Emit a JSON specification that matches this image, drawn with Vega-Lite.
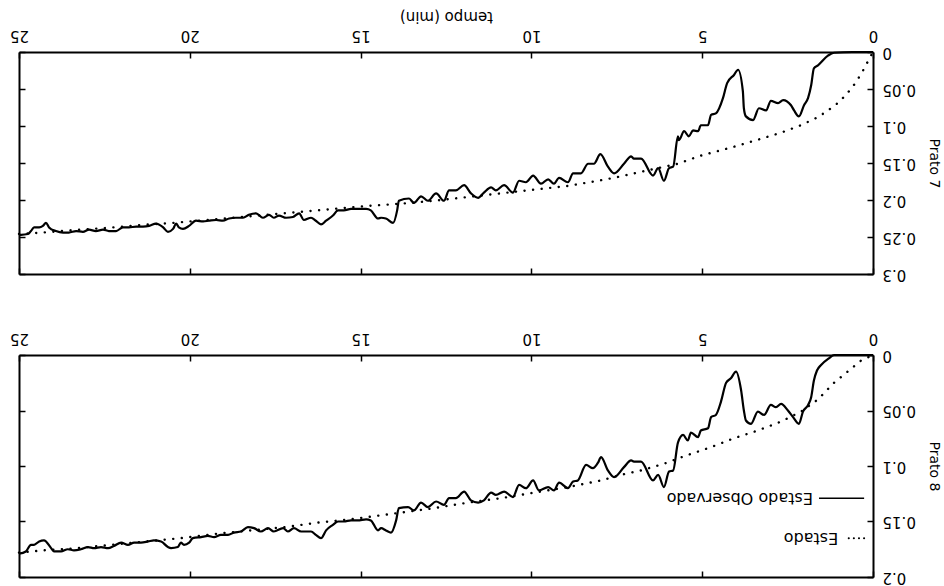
{
  "$schema": "https://vega.github.io/schema/vega-lite/v6.json",
  "background": "white",
  "padding": {"left": 9, "top": 7, "right": 4, "bottom": 2},
  "config": {
    "font": "DejaVu Sans",
    "view": {"stroke": null},
    "axis": {
      "grid": false,
      "domainColor": "black",
      "domainWidth": 2,
      "tickColor": "black",
      "tickWidth": 1.5,
      "labelColor": "black",
      "titleColor": "black",
      "labelFont": "DejaVu Sans",
      "titleFont": "DejaVu Sans",
      "labelFontSize": 15,
      "titleFontSize": 14,
      "titleFontWeight": "normal",
      "labelFlush": false,
      "labelOverlap": false
    }
  },
  "datasets": {
    "prato7": [
      {"t": 0, "v": 0, "serie": "Estado"},
      {"t": 0.06, "v": 0.005, "serie": "Estado"},
      {"t": 0.35, "v": 0.030, "serie": "Estado"},
      {"t": 0.55, "v": 0.044, "serie": "Estado"},
      {"t": 0.79, "v": 0.058, "serie": "Estado"},
      {"t": 1.03, "v": 0.069, "serie": "Estado"},
      {"t": 1.32, "v": 0.079, "serie": "Estado"},
      {"t": 1.61, "v": 0.088, "serie": "Estado"},
      {"t": 2.11, "v": 0.099, "serie": "Estado"},
      {"t": 2.69, "v": 0.109, "serie": "Estado"},
      {"t": 3.48, "v": 0.120, "serie": "Estado"},
      {"t": 4.07, "v": 0.128, "serie": "Estado"},
      {"t": 5.04, "v": 0.140, "serie": "Estado"},
      {"t": 5.71, "v": 0.151, "serie": "Estado"},
      {"t": 6.6, "v": 0.160, "serie": "Estado"},
      {"t": 7.58, "v": 0.170, "serie": "Estado"},
      {"t": 8.05, "v": 0.174, "serie": "Estado"},
      {"t": 8.93, "v": 0.181, "serie": "Estado"},
      {"t": 9.92, "v": 0.186, "serie": "Estado"},
      {"t": 10.89, "v": 0.191, "serie": "Estado"},
      {"t": 11.86, "v": 0.196, "serie": "Estado"},
      {"t": 12.85, "v": 0.201, "serie": "Estado"},
      {"t": 13.82, "v": 0.205, "serie": "Estado"},
      {"t": 14.78, "v": 0.208, "serie": "Estado"},
      {"t": 15.78, "v": 0.212, "serie": "Estado"},
      {"t": 16.74, "v": 0.216, "serie": "Estado"},
      {"t": 17.5, "v": 0.219, "serie": "Estado"},
      {"t": 18.5, "v": 0.223, "serie": "Estado"},
      {"t": 19.5, "v": 0.227, "serie": "Estado"},
      {"t": 20.5, "v": 0.231, "serie": "Estado"},
      {"t": 21.5, "v": 0.234, "serie": "Estado"},
      {"t": 22.5, "v": 0.238, "serie": "Estado"},
      {"t": 23.5, "v": 0.241, "serie": "Estado"},
      {"t": 24.3, "v": 0.244, "serie": "Estado"},
      {"t": 25, "v": 0.246, "serie": "Estado"},

      {"t": 0, "v": 0, "serie": "Estado Observado"},
      {"t": 0.6, "v": 0, "serie": "Estado Observado"},
      {"t": 1.14, "v": 0.001, "serie": "Estado Observado"},
      {"t": 1.32, "v": 0.005, "serie": "Estado Observado"},
      {"t": 1.61, "v": 0.018, "serie": "Estado Observado"},
      {"t": 1.73, "v": 0.022, "serie": "Estado Observado"},
      {"t": 1.81, "v": 0.045, "serie": "Estado Observado"},
      {"t": 1.90, "v": 0.062, "serie": "Estado Observado"},
      {"t": 2.02, "v": 0.072, "serie": "Estado Observado"},
      {"t": 2.17, "v": 0.087, "serie": "Estado Observado"},
      {"t": 2.31, "v": 0.079, "serie": "Estado Observado"},
      {"t": 2.40, "v": 0.072, "serie": "Estado Observado"},
      {"t": 2.63, "v": 0.065, "serie": "Estado Observado"},
      {"t": 2.78, "v": 0.069, "serie": "Estado Observado"},
      {"t": 2.99, "v": 0.066, "serie": "Estado Observado"},
      {"t": 3.13, "v": 0.079, "serie": "Estado Observado"},
      {"t": 3.34, "v": 0.076, "serie": "Estado Observado"},
      {"t": 3.51, "v": 0.092, "serie": "Estado Observado"},
      {"t": 3.72, "v": 0.087, "serie": "Estado Observado"},
      {"t": 3.78, "v": 0.076, "serie": "Estado Observado"},
      {"t": 3.81, "v": 0.053, "serie": "Estado Observado"},
      {"t": 3.95, "v": 0.024, "serie": "Estado Observado"},
      {"t": 4.07, "v": 0.031, "serie": "Estado Observado"},
      {"t": 4.27, "v": 0.042, "serie": "Estado Observado"},
      {"t": 4.39, "v": 0.062, "serie": "Estado Observado"},
      {"t": 4.60, "v": 0.083, "serie": "Estado Observado"},
      {"t": 4.74, "v": 0.085, "serie": "Estado Observado"},
      {"t": 4.83, "v": 0.099, "serie": "Estado Observado"},
      {"t": 5.04, "v": 0.099, "serie": "Estado Observado"},
      {"t": 5.12, "v": 0.107, "serie": "Estado Observado"},
      {"t": 5.27, "v": 0.106, "serie": "Estado Observado"},
      {"t": 5.39, "v": 0.114, "serie": "Estado Observado"},
      {"t": 5.53, "v": 0.107, "serie": "Estado Observado"},
      {"t": 5.68, "v": 0.119, "serie": "Estado Observado"},
      {"t": 5.71, "v": 0.114, "serie": "Estado Observado"},
      {"t": 5.85, "v": 0.155, "serie": "Estado Observado"},
      {"t": 5.97, "v": 0.157, "serie": "Estado Observado"},
      {"t": 6.12, "v": 0.174, "serie": "Estado Observado"},
      {"t": 6.29, "v": 0.157, "serie": "Estado Observado"},
      {"t": 6.44, "v": 0.167, "serie": "Estado Observado"},
      {"t": 6.79, "v": 0.144, "serie": "Estado Observado"},
      {"t": 7.00, "v": 0.144, "serie": "Estado Observado"},
      {"t": 7.08, "v": 0.141, "serie": "Estado Observado"},
      {"t": 7.29, "v": 0.151, "serie": "Estado Observado"},
      {"t": 7.58, "v": 0.164, "serie": "Estado Observado"},
      {"t": 7.76, "v": 0.155, "serie": "Estado Observado"},
      {"t": 7.98, "v": 0.138, "serie": "Estado Observado"},
      {"t": 8.17, "v": 0.151, "serie": "Estado Observado"},
      {"t": 8.34, "v": 0.151, "serie": "Estado Observado"},
      {"t": 8.55, "v": 0.164, "serie": "Estado Observado"},
      {"t": 8.78, "v": 0.164, "serie": "Estado Observado"},
      {"t": 8.93, "v": 0.176, "serie": "Estado Observado"},
      {"t": 9.19, "v": 0.170, "serie": "Estado Observado"},
      {"t": 9.34, "v": 0.178, "serie": "Estado Observado"},
      {"t": 9.51, "v": 0.172, "serie": "Estado Observado"},
      {"t": 9.72, "v": 0.178, "serie": "Estado Observado"},
      {"t": 9.95, "v": 0.167, "serie": "Estado Observado"},
      {"t": 10.16, "v": 0.176, "serie": "Estado Observado"},
      {"t": 10.36, "v": 0.174, "serie": "Estado Observado"},
      {"t": 10.54, "v": 0.190, "serie": "Estado Observado"},
      {"t": 10.80, "v": 0.180, "serie": "Estado Observado"},
      {"t": 11.04, "v": 0.187, "serie": "Estado Observado"},
      {"t": 11.18, "v": 0.183, "serie": "Estado Observado"},
      {"t": 11.39, "v": 0.190, "serie": "Estado Observado"},
      {"t": 11.56, "v": 0.197, "serie": "Estado Observado"},
      {"t": 11.77, "v": 0.191, "serie": "Estado Observado"},
      {"t": 11.97, "v": 0.180, "serie": "Estado Observado"},
      {"t": 12.21, "v": 0.187, "serie": "Estado Observado"},
      {"t": 12.41, "v": 0.187, "serie": "Estado Observado"},
      {"t": 12.56, "v": 0.201, "serie": "Estado Observado"},
      {"t": 12.79, "v": 0.191, "serie": "Estado Observado"},
      {"t": 13.03, "v": 0.201, "serie": "Estado Observado"},
      {"t": 13.23, "v": 0.195, "serie": "Estado Observado"},
      {"t": 13.44, "v": 0.204, "serie": "Estado Observado"},
      {"t": 13.58, "v": 0.198, "serie": "Estado Observado"},
      {"t": 13.88, "v": 0.201, "serie": "Estado Observado"},
      {"t": 13.93, "v": 0.214, "serie": "Estado Observado"},
      {"t": 14.05, "v": 0.231, "serie": "Estado Observado"},
      {"t": 14.26, "v": 0.225, "serie": "Estado Observado"},
      {"t": 14.40, "v": 0.224, "serie": "Estado Observado"},
      {"t": 14.49, "v": 0.225, "serie": "Estado Observado"},
      {"t": 14.70, "v": 0.214, "serie": "Estado Observado"},
      {"t": 14.84, "v": 0.212, "serie": "Estado Observado"},
      {"t": 15.05, "v": 0.212, "serie": "Estado Observado"},
      {"t": 15.28, "v": 0.212, "serie": "Estado Observado"},
      {"t": 15.49, "v": 0.214, "serie": "Estado Observado"},
      {"t": 15.66, "v": 0.214, "serie": "Estado Observado"},
      {"t": 15.81, "v": 0.221, "serie": "Estado Observado"},
      {"t": 16.01, "v": 0.228, "serie": "Estado Observado"},
      {"t": 16.16, "v": 0.233, "serie": "Estado Observado"},
      {"t": 16.31, "v": 0.228, "serie": "Estado Observado"},
      {"t": 16.45, "v": 0.224, "serie": "Estado Observado"},
      {"t": 16.66, "v": 0.227, "serie": "Estado Observado"},
      {"t": 16.80, "v": 0.218, "serie": "Estado Observado"},
      {"t": 16.98, "v": 0.223, "serie": "Estado Observado"},
      {"t": 17.18, "v": 0.224, "serie": "Estado Observado"},
      {"t": 17.39, "v": 0.221, "serie": "Estado Observado"},
      {"t": 17.54, "v": 0.224, "serie": "Estado Observado"},
      {"t": 17.68, "v": 0.220, "serie": "Estado Observado"},
      {"t": 17.86, "v": 0.224, "serie": "Estado Observado"},
      {"t": 18.06, "v": 0.218, "serie": "Estado Observado"},
      {"t": 18.27, "v": 0.220, "serie": "Estado Observado"},
      {"t": 18.44, "v": 0.224, "serie": "Estado Observado"},
      {"t": 18.65, "v": 0.224, "serie": "Estado Observado"},
      {"t": 18.85, "v": 0.225, "serie": "Estado Observado"},
      {"t": 19.03, "v": 0.228, "serie": "Estado Observado"},
      {"t": 19.23, "v": 0.227, "serie": "Estado Observado"},
      {"t": 19.44, "v": 0.228, "serie": "Estado Observado"},
      {"t": 19.61, "v": 0.229, "serie": "Estado Observado"},
      {"t": 19.82, "v": 0.228, "serie": "Estado Observado"},
      {"t": 20.02, "v": 0.235, "serie": "Estado Observado"},
      {"t": 20.20, "v": 0.239, "serie": "Estado Observado"},
      {"t": 20.32, "v": 0.237, "serie": "Estado Observado"},
      {"t": 20.40, "v": 0.232, "serie": "Estado Observado"},
      {"t": 20.49, "v": 0.239, "serie": "Estado Observado"},
      {"t": 20.64, "v": 0.243, "serie": "Estado Observado"},
      {"t": 20.78, "v": 0.237, "serie": "Estado Observado"},
      {"t": 20.99, "v": 0.232, "serie": "Estado Observado"},
      {"t": 21.19, "v": 0.235, "serie": "Estado Observado"},
      {"t": 21.37, "v": 0.236, "serie": "Estado Observado"},
      {"t": 21.57, "v": 0.236, "serie": "Estado Observado"},
      {"t": 21.78, "v": 0.237, "serie": "Estado Observado"},
      {"t": 21.96, "v": 0.237, "serie": "Estado Observado"},
      {"t": 22.16, "v": 0.242, "serie": "Estado Observado"},
      {"t": 22.37, "v": 0.242, "serie": "Estado Observado"},
      {"t": 22.54, "v": 0.240, "serie": "Estado Observado"},
      {"t": 22.75, "v": 0.242, "serie": "Estado Observado"},
      {"t": 22.95, "v": 0.240, "serie": "Estado Observado"},
      {"t": 23.13, "v": 0.243, "serie": "Estado Observado"},
      {"t": 23.33, "v": 0.242, "serie": "Estado Observado"},
      {"t": 23.54, "v": 0.244, "serie": "Estado Observado"},
      {"t": 23.71, "v": 0.244, "serie": "Estado Observado"},
      {"t": 23.92, "v": 0.242, "serie": "Estado Observado"},
      {"t": 24.12, "v": 0.237, "serie": "Estado Observado"},
      {"t": 24.21, "v": 0.231, "serie": "Estado Observado"},
      {"t": 24.30, "v": 0.235, "serie": "Estado Observado"},
      {"t": 24.41, "v": 0.237, "serie": "Estado Observado"},
      {"t": 24.56, "v": 0.237, "serie": "Estado Observado"},
      {"t": 24.65, "v": 0.242, "serie": "Estado Observado"},
      {"t": 24.74, "v": 0.246, "serie": "Estado Observado"},
      {"t": 24.94, "v": 0.247, "serie": "Estado Observado"},
      {"t": 25, "v": 0.247, "serie": "Estado Observado"}
    ],
    "prato8": [
      {"t": 0, "v": 0, "serie": "Estado"},
      {"t": 0.35, "v": 0.005, "serie": "Estado"},
      {"t": 1.14, "v": 0.025, "serie": "Estado"},
      {"t": 1.61, "v": 0.040, "serie": "Estado"},
      {"t": 2.11, "v": 0.051, "serie": "Estado"},
      {"t": 2.69, "v": 0.060, "serie": "Estado"},
      {"t": 3.37, "v": 0.068, "serie": "Estado"},
      {"t": 4.07, "v": 0.075, "serie": "Estado"},
      {"t": 4.74, "v": 0.083, "serie": "Estado"},
      {"t": 5.42, "v": 0.090, "serie": "Estado"},
      {"t": 6.12, "v": 0.098, "serie": "Estado"},
      {"t": 6.79, "v": 0.104, "serie": "Estado"},
      {"t": 7.38, "v": 0.108, "serie": "Estado"},
      {"t": 7.96, "v": 0.113, "serie": "Estado"},
      {"t": 8.93, "v": 0.119, "serie": "Estado"},
      {"t": 9.92, "v": 0.124, "serie": "Estado"},
      {"t": 10.89, "v": 0.129, "serie": "Estado"},
      {"t": 11.86, "v": 0.133, "serie": "Estado"},
      {"t": 12.85, "v": 0.138, "serie": "Estado"},
      {"t": 13.82, "v": 0.142, "serie": "Estado"},
      {"t": 14.3, "v": 0.144, "serie": "Estado"},
      {"t": 15.28, "v": 0.148, "serie": "Estado"},
      {"t": 16.25, "v": 0.151, "serie": "Estado"},
      {"t": 17.2, "v": 0.155, "serie": "Estado"},
      {"t": 18.2, "v": 0.158, "serie": "Estado"},
      {"t": 19.2, "v": 0.161, "serie": "Estado"},
      {"t": 20.26, "v": 0.165, "serie": "Estado"},
      {"t": 21.3, "v": 0.168, "serie": "Estado"},
      {"t": 22.3, "v": 0.171, "serie": "Estado"},
      {"t": 23.3, "v": 0.174, "serie": "Estado"},
      {"t": 24.27, "v": 0.176, "serie": "Estado"},
      {"t": 25, "v": 0.178, "serie": "Estado"},

      {"t": 0, "v": 0, "serie": "Estado Observado"},
      {"t": 0.6, "v": 0, "serie": "Estado Observado"},
      {"t": 1.14, "v": 0, "serie": "Estado Observado"},
      {"t": 1.29, "v": 0.003, "serie": "Estado Observado"},
      {"t": 1.52, "v": 0.009, "serie": "Estado Observado"},
      {"t": 1.64, "v": 0.014, "serie": "Estado Observado"},
      {"t": 1.73, "v": 0.023, "serie": "Estado Observado"},
      {"t": 1.81, "v": 0.038, "serie": "Estado Observado"},
      {"t": 1.90, "v": 0.045, "serie": "Estado Observado"},
      {"t": 2.05, "v": 0.051, "serie": "Estado Observado"},
      {"t": 2.17, "v": 0.062, "serie": "Estado Observado"},
      {"t": 2.34, "v": 0.056, "serie": "Estado Observado"},
      {"t": 2.49, "v": 0.050, "serie": "Estado Observado"},
      {"t": 2.69, "v": 0.044, "serie": "Estado Observado"},
      {"t": 2.84, "v": 0.047, "serie": "Estado Observado"},
      {"t": 2.99, "v": 0.045, "serie": "Estado Observado"},
      {"t": 3.19, "v": 0.054, "serie": "Estado Observado"},
      {"t": 3.37, "v": 0.051, "serie": "Estado Observado"},
      {"t": 3.57, "v": 0.062, "serie": "Estado Observado"},
      {"t": 3.72, "v": 0.059, "serie": "Estado Observado"},
      {"t": 3.78, "v": 0.050, "serie": "Estado Observado"},
      {"t": 3.86, "v": 0.032, "serie": "Estado Observado"},
      {"t": 4.01, "v": 0.015, "serie": "Estado Observado"},
      {"t": 4.16, "v": 0.021, "serie": "Estado Observado"},
      {"t": 4.30, "v": 0.025, "serie": "Estado Observado"},
      {"t": 4.45, "v": 0.042, "serie": "Estado Observado"},
      {"t": 4.60, "v": 0.054, "serie": "Estado Observado"},
      {"t": 4.74, "v": 0.056, "serie": "Estado Observado"},
      {"t": 4.83, "v": 0.066, "serie": "Estado Observado"},
      {"t": 5.04, "v": 0.068, "serie": "Estado Observado"},
      {"t": 5.12, "v": 0.074, "serie": "Estado Observado"},
      {"t": 5.33, "v": 0.070, "serie": "Estado Observado"},
      {"t": 5.42, "v": 0.077, "serie": "Estado Observado"},
      {"t": 5.56, "v": 0.072, "serie": "Estado Observado"},
      {"t": 5.71, "v": 0.079, "serie": "Estado Observado"},
      {"t": 5.85, "v": 0.104, "serie": "Estado Observado"},
      {"t": 5.97, "v": 0.105, "serie": "Estado Observado"},
      {"t": 6.12, "v": 0.119, "serie": "Estado Observado"},
      {"t": 6.29, "v": 0.108, "serie": "Estado Observado"},
      {"t": 6.44, "v": 0.113, "serie": "Estado Observado"},
      {"t": 6.79, "v": 0.096, "serie": "Estado Observado"},
      {"t": 7.00, "v": 0.096, "serie": "Estado Observado"},
      {"t": 7.08, "v": 0.095, "serie": "Estado Observado"},
      {"t": 7.29, "v": 0.101, "serie": "Estado Observado"},
      {"t": 7.58, "v": 0.110, "serie": "Estado Observado"},
      {"t": 7.76, "v": 0.104, "serie": "Estado Observado"},
      {"t": 7.96, "v": 0.092, "serie": "Estado Observado"},
      {"t": 8.05, "v": 0.097, "serie": "Estado Observado"},
      {"t": 8.20, "v": 0.102, "serie": "Estado Observado"},
      {"t": 8.40, "v": 0.099, "serie": "Estado Observado"},
      {"t": 8.64, "v": 0.113, "serie": "Estado Observado"},
      {"t": 8.78, "v": 0.114, "serie": "Estado Observado"},
      {"t": 8.93, "v": 0.120, "serie": "Estado Observado"},
      {"t": 9.19, "v": 0.115, "serie": "Estado Observado"},
      {"t": 9.34, "v": 0.122, "serie": "Estado Observado"},
      {"t": 9.51, "v": 0.119, "serie": "Estado Observado"},
      {"t": 9.78, "v": 0.122, "serie": "Estado Observado"},
      {"t": 9.95, "v": 0.113, "serie": "Estado Observado"},
      {"t": 10.16, "v": 0.120, "serie": "Estado Observado"},
      {"t": 10.36, "v": 0.117, "serie": "Estado Observado"},
      {"t": 10.54, "v": 0.128, "serie": "Estado Observado"},
      {"t": 10.80, "v": 0.123, "serie": "Estado Observado"},
      {"t": 11.04, "v": 0.126, "serie": "Estado Observado"},
      {"t": 11.18, "v": 0.124, "serie": "Estado Observado"},
      {"t": 11.39, "v": 0.131, "serie": "Estado Observado"},
      {"t": 11.56, "v": 0.133, "serie": "Estado Observado"},
      {"t": 11.77, "v": 0.131, "serie": "Estado Observado"},
      {"t": 11.97, "v": 0.123, "serie": "Estado Observado"},
      {"t": 12.21, "v": 0.129, "serie": "Estado Observado"},
      {"t": 12.41, "v": 0.129, "serie": "Estado Observado"},
      {"t": 12.56, "v": 0.135, "serie": "Estado Observado"},
      {"t": 12.79, "v": 0.132, "serie": "Estado Observado"},
      {"t": 13.03, "v": 0.137, "serie": "Estado Observado"},
      {"t": 13.23, "v": 0.133, "serie": "Estado Observado"},
      {"t": 13.44, "v": 0.140, "serie": "Estado Observado"},
      {"t": 13.61, "v": 0.137, "serie": "Estado Observado"},
      {"t": 13.88, "v": 0.138, "serie": "Estado Observado"},
      {"t": 13.96, "v": 0.149, "serie": "Estado Observado"},
      {"t": 14.11, "v": 0.160, "serie": "Estado Observado"},
      {"t": 14.26, "v": 0.158, "serie": "Estado Observado"},
      {"t": 14.40, "v": 0.156, "serie": "Estado Observado"},
      {"t": 14.49, "v": 0.158, "serie": "Estado Observado"},
      {"t": 14.70, "v": 0.149, "serie": "Estado Observado"},
      {"t": 14.84, "v": 0.148, "serie": "Estado Observado"},
      {"t": 15.08, "v": 0.149, "serie": "Estado Observado"},
      {"t": 15.28, "v": 0.149, "serie": "Estado Observado"},
      {"t": 15.49, "v": 0.150, "serie": "Estado Observado"},
      {"t": 15.66, "v": 0.150, "serie": "Estado Observado"},
      {"t": 15.81, "v": 0.153, "serie": "Estado Observado"},
      {"t": 16.01, "v": 0.158, "serie": "Estado Observado"},
      {"t": 16.16, "v": 0.165, "serie": "Estado Observado"},
      {"t": 16.31, "v": 0.162, "serie": "Estado Observado"},
      {"t": 16.45, "v": 0.159, "serie": "Estado Observado"},
      {"t": 16.74, "v": 0.159, "serie": "Estado Observado"},
      {"t": 16.95, "v": 0.156, "serie": "Estado Observado"},
      {"t": 17.13, "v": 0.159, "serie": "Estado Observado"},
      {"t": 17.27, "v": 0.156, "serie": "Estado Observado"},
      {"t": 17.54, "v": 0.159, "serie": "Estado Observado"},
      {"t": 17.71, "v": 0.156, "serie": "Estado Observado"},
      {"t": 17.92, "v": 0.159, "serie": "Estado Observado"},
      {"t": 18.12, "v": 0.156, "serie": "Estado Observado"},
      {"t": 18.30, "v": 0.155, "serie": "Estado Observado"},
      {"t": 18.50, "v": 0.159, "serie": "Estado Observado"},
      {"t": 18.71, "v": 0.160, "serie": "Estado Observado"},
      {"t": 18.88, "v": 0.162, "serie": "Estado Observado"},
      {"t": 19.09, "v": 0.162, "serie": "Estado Observado"},
      {"t": 19.29, "v": 0.164, "serie": "Estado Observado"},
      {"t": 19.47, "v": 0.163, "serie": "Estado Observado"},
      {"t": 19.67, "v": 0.164, "serie": "Estado Observado"},
      {"t": 19.91, "v": 0.165, "serie": "Estado Observado"},
      {"t": 20.02, "v": 0.169, "serie": "Estado Observado"},
      {"t": 20.17, "v": 0.171, "serie": "Estado Observado"},
      {"t": 20.26, "v": 0.169, "serie": "Estado Observado"},
      {"t": 20.35, "v": 0.173, "serie": "Estado Observado"},
      {"t": 20.55, "v": 0.174, "serie": "Estado Observado"},
      {"t": 20.64, "v": 0.173, "serie": "Estado Observado"},
      {"t": 20.84, "v": 0.168, "serie": "Estado Observado"},
      {"t": 21.05, "v": 0.167, "serie": "Estado Observado"},
      {"t": 21.22, "v": 0.168, "serie": "Estado Observado"},
      {"t": 21.43, "v": 0.169, "serie": "Estado Observado"},
      {"t": 21.63, "v": 0.169, "serie": "Estado Observado"},
      {"t": 21.81, "v": 0.171, "serie": "Estado Observado"},
      {"t": 22.01, "v": 0.169, "serie": "Estado Observado"},
      {"t": 22.22, "v": 0.172, "serie": "Estado Observado"},
      {"t": 22.39, "v": 0.174, "serie": "Estado Observado"},
      {"t": 22.60, "v": 0.173, "serie": "Estado Observado"},
      {"t": 22.80, "v": 0.174, "serie": "Estado Observado"},
      {"t": 22.98, "v": 0.173, "serie": "Estado Observado"},
      {"t": 23.19, "v": 0.175, "serie": "Estado Observado"},
      {"t": 23.39, "v": 0.176, "serie": "Estado Observado"},
      {"t": 23.57, "v": 0.175, "serie": "Estado Observado"},
      {"t": 23.77, "v": 0.177, "serie": "Estado Observado"},
      {"t": 23.98, "v": 0.177, "serie": "Estado Observado"},
      {"t": 24.06, "v": 0.174, "serie": "Estado Observado"},
      {"t": 24.27, "v": 0.167, "serie": "Estado Observado"},
      {"t": 24.41, "v": 0.168, "serie": "Estado Observado"},
      {"t": 24.56, "v": 0.171, "serie": "Estado Observado"},
      {"t": 24.65, "v": 0.171, "serie": "Estado Observado"},
      {"t": 24.80, "v": 0.177, "serie": "Estado Observado"},
      {"t": 25, "v": 0.179, "serie": "Estado Observado"}
    ]
  },
  "vconcat": [
    {
      "width": 854,
      "height": 222,
      "data": {"name": "prato7"},
      "resolve": {"axis": {"x": "independent", "y": "independent"}},
      "layer": [
        {
          "transform": [{"filter": "datum.serie === 'Estado'"}],
          "mark": {"type": "line", "color": "black", "strokeWidth": 2.4, "strokeDash": [0.1, 8.5], "strokeCap": "round"},
          "encoding": {
            "x": {
              "field": "t", "type": "quantitative",
              "scale": {"domain": [0, 25], "reverse": true, "nice": false, "zero": false},
              "axis": {"orient": "top", "values": [0, 5, 10, 15, 20, 25], "format": "d", "labelAngle": 180, "labelAlign": "center", "labelBaseline": "top", "tickSize": -6, "labelPadding": 16, "title": "tempo (min)", "titleAngle": 180, "titleBaseline": "top", "titlePadding": 4, "titleFontSize": 15}
            },
            "y": {
              "field": "v", "type": "quantitative",
              "scale": {"domain": [0, 0.3], "reverse": true, "nice": false, "zero": false},
              "axis": {"orient": "right", "values": [0, 0.05, 0.1, 0.15, 0.2, 0.25, 0.3], "format": "~g", "labelAngle": 180, "labelAlign": "right", "labelBaseline": "middle", "tickSize": -6, "labelPadding": 15, "title": "Prato 7", "titleAngle": 90, "titlePadding": 11}
            }
          }
        },
        {
          "transform": [{"filter": "datum.serie === 'Estado Observado'"}],
          "mark": {"type": "line", "color": "black", "strokeWidth": 2.2, "interpolate": "monotone"},
          "encoding": {
            "x": {
              "field": "t", "type": "quantitative",
              "axis": {"orient": "bottom", "values": [0, 5, 10, 15, 20, 25], "labels": false, "tickSize": -6, "title": null}
            },
            "y": {
              "field": "v", "type": "quantitative",
              "axis": {"orient": "left", "values": [0, 0.05, 0.1, 0.15, 0.2, 0.25, 0.3], "labels": false, "tickSize": -6, "title": null}
            }
          }
        }
      ]
    },
    {
      "width": 854,
      "height": 222,
      "data": {"name": "prato8"},
      "resolve": {"axis": {"x": "independent", "y": "independent"}},
      "layer": [
        {
          "transform": [{"filter": "datum.serie === 'Estado'"}],
          "mark": {"type": "line", "color": "black", "strokeWidth": 2.4, "strokeDash": [0.1, 8.5], "strokeCap": "round"},
          "encoding": {
            "x": {
              "field": "t", "type": "quantitative",
              "scale": {"domain": [0, 25], "reverse": true, "nice": false, "zero": false},
              "axis": {"orient": "top", "values": [0, 5, 10, 15, 20, 25], "format": "d", "labelAngle": 180, "labelAlign": "center", "labelBaseline": "top", "tickSize": -6, "labelPadding": 16, "title": null}
            },
            "y": {
              "field": "v", "type": "quantitative",
              "scale": {"domain": [0, 0.2], "reverse": true, "nice": false, "zero": false},
              "axis": {"orient": "right", "values": [0, 0.05, 0.1, 0.15, 0.2], "format": "~g", "labelAngle": 180, "labelAlign": "right", "labelBaseline": "middle", "tickSize": -6, "labelPadding": 15, "title": "Prato 8", "titleAngle": 90, "titlePadding": 11}
            }
          }
        },
        {
          "transform": [{"filter": "datum.serie === 'Estado Observado'"}],
          "mark": {"type": "line", "color": "black", "strokeWidth": 2.2, "interpolate": "monotone"},
          "encoding": {
            "x": {
              "field": "t", "type": "quantitative",
              "axis": {"orient": "bottom", "values": [0, 5, 10, 15, 20, 25], "labels": false, "tickSize": -6, "title": null}
            },
            "y": {
              "field": "v", "type": "quantitative",
              "axis": {"orient": "left", "values": [0, 0.05, 0.1, 0.15, 0.2], "labels": false, "tickSize": -6, "title": null}
            }
          }
        },
        {
          "data": {"values": [{}]},
          "mark": {"type": "rule", "color": "black", "strokeWidth": 1.5},
          "encoding": {
            "x": {"datum": 0.26, "type": "quantitative", "axis": null},
            "x2": {"datum": 1.58},
            "y": {"datum": 0.129, "type": "quantitative", "axis": null}
          }
        },
        {
          "data": {"values": [{}]},
          "mark": {"type": "rule", "color": "black", "strokeWidth": 2, "strokeDash": [0.1, 5], "strokeCap": "round"},
          "encoding": {
            "x": {"datum": 0.26, "type": "quantitative", "axis": null},
            "x2": {"datum": 0.79},
            "y": {"datum": 0.165, "type": "quantitative", "axis": null}
          }
        },
        {
          "data": {"values": [{}]},
          "mark": {"type": "text", "text": "Estado Observado", "angle": 180, "align": "left", "baseline": "middle", "fontSize": 16, "font": "DejaVu Sans", "color": "black"},
          "encoding": {
            "x": {"datum": 1.76, "type": "quantitative", "axis": null},
            "y": {"datum": 0.129, "type": "quantitative", "axis": null}
          }
        },
        {
          "data": {"values": [{}]},
          "mark": {"type": "text", "text": "Estado", "angle": 180, "align": "left", "baseline": "middle", "fontSize": 16, "font": "DejaVu Sans", "color": "black"},
          "encoding": {
            "x": {"datum": 1.02, "type": "quantitative", "axis": null},
            "y": {"datum": 0.165, "type": "quantitative", "axis": null}
          }
        }
      ]
    }
  ],
  "spacing": 48
}
